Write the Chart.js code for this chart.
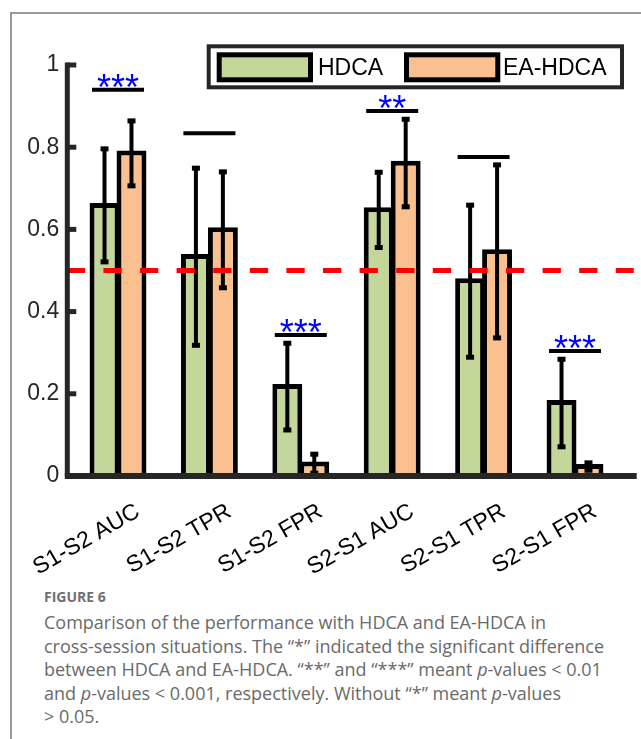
<!DOCTYPE html>
<html>
<head>
<meta charset="utf-8">
<script src="https://cdn.jsdelivr.net/npm/chart.js@4/dist/chart.umd.min.js"></script>
<style>
  html, body { margin: 0; padding: 0; background: #fff; }
  body { width: 641px; height: 739px; position: relative; overflow: hidden; }
  #marco { position: absolute; left: 10px; top: 12px; width: 640px; height: 725px;
           border-left: 2px solid #999; border-top: 2px solid #999; }
  #grafico { position: absolute; left: 0; top: 0; }
  #leyenda { position: absolute; left: 44px; top: 587px; width: 595px;
             font-family: "Open Sans", sans-serif; color: #6a6a6a; }
  #leyenda .fig { font-weight: 700; font-size: 14px; color: #707070; margin-bottom: 5px; }
  #leyenda .txt { font-size: 18px; line-height: 23.5px; }
</style>
</head>
<body>
<div id="marco"></div>
<canvas id="grafico" width="641" height="585"></canvas>
<div id="leyenda">
  <div class="fig">FIGURE 6</div>
  <div class="txt">Comparison of the performance with HDCA and EA-HDCA in<br>cross-session situations. The “*” indicated the significant difference<br>between HDCA and EA-HDCA. “**” and “***” meant <i>p</i>-values &lt; 0.01<br>and <i>p</i>-values &lt; 0.001, respectively. Without “*” meant <i>p</i>-values<br>&gt; 0.05.</div>
</div>
<script>
// datos
const categorias = ['S1-S2 AUC', 'S1-S2 TPR', 'S1-S2 FPR', 'S2-S1 AUC', 'S2-S1 TPR', 'S2-S1 FPR'];
const series = ['HDCA', 'EA-HDCA'];
const hdcaMedia = [0.664, 0.540, 0.224, 0.654, 0.481, 0.185];
const eaMedia   = [0.792, 0.605, 0.035, 0.767, 0.552, 0.029];
const hdcaSup = [0.796, 0.749, 0.323, 0.739, 0.659, 0.284];
const hdcaInf = [0.521, 0.318, 0.112, 0.556, 0.289, 0.071];
const eaSup   = [0.864, 0.740, 0.053, 0.868, 0.757, 0.032];
const eaInf   = [0.706, 0.458, 0.007, 0.655, 0.336, 0.014];
const nivelSig = [0.94, 0.834, 0.343, 0.888, 0.776, 0.304];
const estrellas = ['***', '', '***', '**', '', '***'];
const nivelAzar = 0.5;
const yMin = 0, yMax = 1, yPaso = 0.2;

const colorHDCA = '#C4D79B';
const colorEA = '#FAC090';
const ejeColor = '#262626';
const fuente = '"Liberation Sans", Arial, sans-serif';

// dibuja barras de error, lineas de significancia, azar, ejes y leyenda
const extras = {
	id: 'extras',
	afterDatasetsDraw(chart) {
		const ctx = chart.ctx;
		const x = chart.scales.x, y = chart.scales.y;
		const area = chart.chartArea;
		const limites = [[hdcaSup, hdcaInf], [eaSup, eaInf]];
		ctx.save();

		// barras de error
		ctx.strokeStyle = '#000';
		limites.forEach(([sup, inf], d) => {
			chart.getDatasetMeta(d).data.forEach((bar, i) => {
				const cx = bar.x;
				const ys = y.getPixelForValue(sup[i]);
				const yi = y.getPixelForValue(inf[i]);
				ctx.lineWidth = 4;
				ctx.beginPath(); ctx.moveTo(cx, ys); ctx.lineTo(cx, yi); ctx.stroke();
				ctx.lineWidth = 5;
				[ys, yi].forEach(v => {
					ctx.beginPath(); ctx.moveTo(cx - 4, v); ctx.lineTo(cx + 4, v); ctx.stroke();
				});
			});
		});

		// lineas de significancia y estrellas
		ctx.font = '36px ' + fuente;
		ctx.textAlign = 'center';
		ctx.textBaseline = 'alphabetic';
		categorias.forEach((c, i) => {
			const cx = x.getPixelForValue(i);
			const ly = y.getPixelForValue(nivelSig[i]);
			ctx.strokeStyle = '#000';
			ctx.lineWidth = 4;
			ctx.beginPath(); ctx.moveTo(cx - 26, ly); ctx.lineTo(cx + 26, ly); ctx.stroke();
			if (estrellas[i]) {
				const m = ctx.measureText(estrellas[i]);
				ctx.fillStyle = '#0000FF';
				ctx.fillText(estrellas[i], cx, ly - 2 - m.actualBoundingBoxDescent);
			}
		});

		// linea de azar
		const ay = y.getPixelForValue(nivelAzar);
		ctx.strokeStyle = '#FF0000';
		ctx.lineWidth = 5;
		ctx.setLineDash([18.3, 18.3]);
		ctx.beginPath(); ctx.moveTo(area.left - 5.5, ay); ctx.lineTo(area.right + 13, ay); ctx.stroke();
		ctx.setLineDash([]);

		// ejes
		const ex = area.left - 5;
		ctx.strokeStyle = ejeColor;
		ctx.lineWidth = 5;
		ctx.beginPath(); ctx.moveTo(ex, area.top - 2.5); ctx.lineTo(ex, area.bottom); ctx.stroke();
		ctx.lineWidth = 6;
		ctx.beginPath(); ctx.moveTo(ex - 2.5, area.bottom); ctx.lineTo(area.right + 16, area.bottom); ctx.stroke();
		ctx.lineWidth = 5;
		y.ticks.forEach(t => {
			const ty = y.getPixelForValue(t.value);
			ctx.beginPath(); ctx.moveTo(ex, ty); ctx.lineTo(ex + 9, ty); ctx.stroke();
		});

		// leyenda
		ctx.fillStyle = '#fff';
		ctx.fillRect(208.7, 46.3, 413.3, 41);
		ctx.strokeStyle = ejeColor;
		ctx.lineWidth = 4;
		ctx.strokeRect(208.7, 46.3, 413.3, 41);
		const muestras = [[219.2, colorHDCA, 318], [406.5, colorEA, 503]];
		ctx.font = '23px ' + fuente;
		ctx.textAlign = 'left';
		ctx.textBaseline = 'middle';
		muestras.forEach(([mx, col, tx], k) => {
			ctx.fillStyle = col;
			ctx.fillRect(mx, 54.8, 91.3, 25);
			ctx.strokeStyle = '#000';
			ctx.lineWidth = 5;
			ctx.strokeRect(mx, 54.8, 91.3, 25);
			ctx.fillStyle = '#000';
			ctx.fillText(series[k], tx, 69);
		});
		ctx.restore();
	}
};

new Chart(document.getElementById('grafico'), {
	type: 'bar',
	data: {
		labels: categorias,
		datasets: [
			{ label: series[0], data: hdcaMedia, backgroundColor: colorHDCA, borderColor: '#000', borderWidth: 5 },
			{ label: series[1], data: eaMedia, backgroundColor: colorEA, borderColor: '#000', borderWidth: 5 }
		]
	},
	options: {
		responsive: false,
		animation: false,
		devicePixelRatio: 1,
		layout: { padding: { top: 65, right: 20.3, left: 0, bottom: 0 } },
		datasets: { bar: { categoryPercentage: 0.59, barPercentage: 1.11 } },
		plugins: { legend: { display: false }, tooltip: { enabled: false } },
		scales: {
			x: {
				grid: { display: false, drawTicks: false },
				border: { display: false },
				ticks: { font: { family: fuente, size: 23 }, color: '#000', minRotation: 30, maxRotation: 30,
					autoSkip: false, labelOffset: 20, padding: 22 },
				afterFit(s) { s.height = 109; s.paddingLeft = 0; s.paddingRight = 0; }
			},
			y: {
				min: yMin, max: yMax,
				grid: { display: false, drawTicks: false },
				border: { display: false },
				ticks: { stepSize: yPaso, font: { family: fuente, size: 23 }, color: ejeColor, padding: 13,
					callback: v => String(Math.round(v * 10) / 10) },
				afterFit(s) { s.width = 72.3; }
			}
		}
	},
	plugins: [extras]
});
</script>
</body>
</html>
